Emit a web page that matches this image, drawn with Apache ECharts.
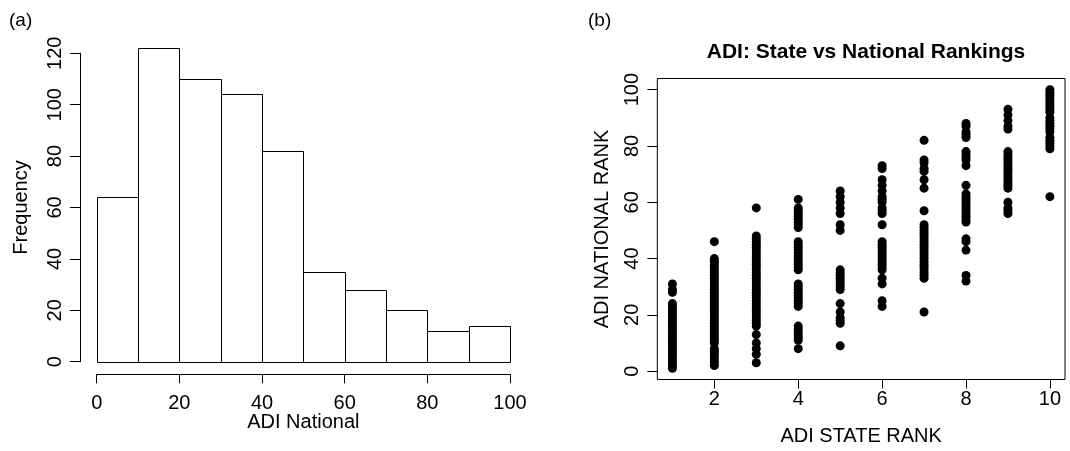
<!DOCTYPE html>
<html>
<head>
<meta charset="utf-8">
<script src="https://cdn.jsdelivr.net/npm/echarts@6/dist/echarts.min.js"></script>
<style>
  html, body { margin: 0; padding: 0; background: #fff; }
  #chart { width: 1070px; height: 451px; }
</style>
</head>
<body>
<div id="chart"></div>
<script>
// ---- Panel (a): histogram of ADI National ----
const histBreaks = [0, 10, 20, 30, 40, 50, 60, 70, 80, 90, 100];
const histCounts = [64, 122, 110, 104, 82, 35, 28, 20, 12, 14];
const histXTicks = [0, 20, 40, 60, 80, 100];
const histYTicks = [0, 20, 40, 60, 80, 100, 120];

// ---- Panel (b): ADI state rank vs national rank ----
const stateRanks = [1, 2, 3, 4, 5, 6, 7, 8, 9, 10];
const natRank1 = [1,2,3,4,5,6,7,8,9,10,11,12,13,14,15,16,17,18,19,20,21,22,23,24,28,29,31];
const natRank2 = [2,3,4,5,6,7,8,10,11,12,13,14,15,16,17,18,19,20,21,22,23,24,25,26,27,28,29,30,31,32,33,34,35,36,37,38,39,40,46];
const natRank3 = [3,6,8,10,13,16,17,18,19,20,21,22,23,24,25,26,27,28,29,30,31,32,33,34,35,36,37,38,39,40,41,42,43,44,45,46,47,48,58];
const natRank4 = [8,11,12,13,14,15,16,23,24,25,26,27,28,29,30,31,36,37,38,39,40,41,42,43,44,45,46,51,52,53,54,55,56,57,58,61];
const natRank5 = [9,17,18,19,21,24,29,30,31,32,33,34,35,36,50,52,56,58,60,62,64];
const natRank6 = [23,25,31,33,36,37,38,39,40,41,42,43,44,45,46,52,56,57,58,60,61,62,64,66,68,72,73];
const natRank7 = [21,33,34,35,36,37,38,39,40,41,42,43,44,45,46,47,48,49,50,51,52,57,65,68,71,72,74,75,82];
const natRank8 = [32,34,43,46,47,53,54,55,56,57,58,59,60,61,62,63,66,73,75,76,77,78,83,84,85,87,88];
const natRank9 = [56,57,58,60,65,66,67,68,69,70,71,72,73,74,75,76,77,78,86,87,89,91,93];
const natRank10 = [62,79,80,81,82,83,85,86,87,88,89,90,92,93,94,95,96,97,98,99,100];
const scatterXTicks = [2, 4, 6, 8, 10];
const scatterYTicks = [0, 20, 40, 60, 80, 100];

const nationalByState = [natRank1, natRank2, natRank3, natRank4, natRank5,
                         natRank6, natRank7, natRank8, natRank9, natRank10];

const histData = histCounts.map((c, i) => [histBreaks[i], histBreaks[i + 1], c]);
const scatterData = [];
stateRanks.forEach((r, i) => nationalByState[i].forEach(v => scatterData.push([r, v])));

const FONT = "'Liberation Sans', Arial, Helvetica, sans-serif";
const BLACK = '#000';

const chart = echarts.init(document.getElementById('chart'), null, { renderer: 'canvas' });

const axisCommon = {
  splitLine: { show: false },
  nameLocation: 'middle',
  nameMoveOverlap: false,
  nameTextStyle: { color: BLACK, fontSize: 20, fontFamily: FONT },
};

chart.setOption({
  animation: false,
  backgroundColor: '#fff',
  title: [
    { text: '(a)', left: 4, top: 6, textStyle: { fontSize: 19, fontWeight: 'normal', color: BLACK, fontFamily: FONT } },
    { text: '(b)', left: 583, top: 6, textStyle: { fontSize: 19, fontWeight: 'normal', color: BLACK, fontFamily: FONT } },
    { text: 'ADI: State vs National Rankings', left: 861, top: 37, textAlign: 'center',
      textStyle: { fontSize: 21, fontWeight: 'bold', color: BLACK, fontFamily: FONT } }
  ],
  grid: [
    { left: 96.7, top: 53.3, width: 413.3, height: 308.4 },
    { left: 657.3, top: 78.5, width: 407.7, height: 303.8, show: true,
      borderColor: BLACK, borderWidth: 1, backgroundColor: 'transparent' }
  ],
  xAxis: [
    Object.assign({}, axisCommon, {
      type: 'value', gridIndex: 0, min: 0, max: 100, interval: 20, offset: 12.6,
      name: 'ADI National', nameGap: 38,
      axisLine: { show: true, onZero: false, lineStyle: { color: BLACK, width: 1 } },
      axisLabel: { color: BLACK, fontSize: 20, fontFamily: FONT, margin: 19, customValues: histXTicks },
      axisTick: { show: true, length: 9, lineStyle: { color: BLACK }, customValues: histXTicks }
    }),
    Object.assign({}, axisCommon, {
      type: 'value', gridIndex: 1, min: 0.64, max: 10.36,
      name: 'ADI STATE RANK', nameGap: 46.5,
      axisLine: { show: false, onZero: false },
      axisLabel: { color: BLACK, fontSize: 20, fontFamily: FONT, margin: 10, customValues: scatterXTicks },
      axisTick: { show: true, length: 9, lineStyle: { color: BLACK }, customValues: scatterXTicks }
    })
  ],
  yAxis: [
    Object.assign({}, axisCommon, {
      type: 'value', gridIndex: 0, min: 0, max: 120, interval: 20, offset: 16.7,
      name: 'Frequency', nameGap: 48.5, nameRotate: 90,
      axisLine: { show: true, onZero: false, lineStyle: { color: BLACK, width: 1 } },
      axisLabel: { color: BLACK, fontSize: 20, fontFamily: FONT, margin: 15, rotate: 90, customValues: histYTicks },
      axisTick: { show: true, length: 10, lineStyle: { color: BLACK }, customValues: histYTicks }
    }),
    Object.assign({}, axisCommon, {
      type: 'value', gridIndex: 1, min: -2.96, max: 103.96,
      name: 'ADI NATIONAL RANK', nameGap: 45, nameRotate: 90,
      axisLine: { show: false, onZero: false },
      axisLabel: { color: BLACK, fontSize: 20, fontFamily: FONT, margin: 15, rotate: 90, customValues: scatterYTicks },
      axisTick: { show: true, length: 10, lineStyle: { color: BLACK }, customValues: scatterYTicks }
    })
  ],
  series: [
    {
      type: 'custom',
      xAxisIndex: 0, yAxisIndex: 0,
      clip: false,
      data: histData,
      encode: { x: [0, 1], y: 2 },
      renderItem: function (params, api) {
        const p0 = api.coord([api.value(0), 0]);
        const p1 = api.coord([api.value(1), api.value(2)]);
        const x0 = Math.round(p0[0]) + 0.5, x1 = Math.round(p1[0]) + 0.5;
        const y0 = Math.round(p0[1]) + 0.5, y1 = Math.round(p1[1]) + 0.5;
        return {
          type: 'rect',
          shape: { x: x0, y: y1, width: x1 - x0, height: y0 - y1 },
          style: { fill: '#fff', stroke: BLACK, lineWidth: 1 }
        };
      }
    },
    {
      type: 'scatter',
      xAxisIndex: 1, yAxisIndex: 1,
      data: scatterData,
      symbol: 'circle',
      symbolSize: 9,
      itemStyle: { color: BLACK, opacity: 1 },
      emphasis: { disabled: true }
    }
  ]
});
</script>
</body>
</html>
